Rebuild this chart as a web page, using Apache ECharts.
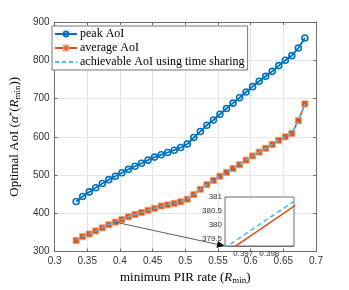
<!DOCTYPE html>
<html><head><meta charset="utf-8">
<script src="https://cdn.jsdelivr.net/npm/echarts@6/dist/echarts.min.js"></script>
<style>html,body{margin:0;padding:0;background:#fff}#c{width:349px;height:290px}</style>
</head><body><div id="c"></div>
<script>
var rates = [0.333,0.343,0.353,0.363,0.373,0.383,0.393,0.403,0.413,0.423,0.433,0.443,0.453,0.463,0.473,0.483,0.493,0.503,0.513,0.523,0.533,0.543,0.553,0.563,0.573,0.583,0.593,0.603,0.613,0.623,0.633,0.643,0.653,0.663,0.673,0.683];
var peakAoI = [431,444,456,467,478,488,497,506,515,523,531,539,547,553,559,565,572,581,598,614,630,644,659,674,688,702,717,731,745,758,771,786,800,812,832,858];
var avgAoI = [329,339,346,354,362,370,377,384,391,397,402,408,413,419,422,426,430,437,449,463,475,486,497,507,517,527,539,550,560,570,580,591,600,609,642,686];
var achAoI = [329.2,339.2,346.2,354.2,362.2,370.2,377.2,384.2,391.2,397.2,402.2,408.2,413.2,419.2,422.2,426.2,430.2,437.2,449.2,463.2,475.2,486.2,497.2,507.2,517.2,527.2,539.2,550.2,560.2,570.2,580.2,591.2,600.2,609.2,642.2,686.2];
var xTicks = ['0.3','0.35','0.4','0.45','0.5','0.55','0.6','0.65','0.7'];
var yTicks = ['300','400','500','600','700','800','900'];
var insetRates = [0.3960, 0.3990];
var insetAvg = [378.81, 380.70];
var insetAch = [379.01, 380.88];
var insetXTicks = [0.397, 0.398];
var insetYTicks = [379.5, 380, 380.5, 381];
var arrowFromIndex = 6;

var BLUE='#0072BD', ORANGE='#D95319', LBLUE='#4DBEEE', AX='#6e6e6e', TXT='#333';
function zip(a,b){return a.map(function(v,i){return [v,b[i]];});}
var chart = echarts.init(document.getElementById('c'), null, {renderer:'canvas'});
var axisCommon = {
  axisLine:{show:true,onZero:false,lineStyle:{color:AX,width:1}},
  axisTick:{show:true,inside:true,length:3,lineStyle:{color:AX}},
  splitLine:{show:false}
};
var option = {
  animation:false,
  backgroundColor:'#fff',
  grid:[{left:45,top:22,right:33,bottom:32,show:false},
        {left:225,top:197,width:69,height:49,show:true,backgroundColor:'#fff',borderColor:AX,borderWidth:1,z:5}],
  legend:{
    left:52, top:26, orient:'vertical', itemWidth:22, itemHeight:6, itemGap:0,
    padding:[1,3,1,2], borderColor:'#777', borderWidth:1, backgroundColor:'#fff',
    textStyle:{fontFamily:'Liberation Serif',fontSize:12,color:'#000',lineHeight:14,padding:[0,0,0,-2]},
    data:[{name:'peak AoI'},{name:'average AoI'},
      {name:'achievable AoI using time sharing',itemStyle:{opacity:0}}]
  },
  xAxis:[
    Object.assign({}, axisCommon, {type:'value',gridIndex:0,min:0.3,max:0.7,interval:0.05,
      axisLabel:{color:TXT,fontFamily:'Liberation Sans',fontSize:10,margin:5,
        formatter:function(v){return xTicks[Math.round((v-0.3)/0.05)];}},
      splitLine:{show:true,lineStyle:{color:'#e6e6e6',width:1}},
      name:'{n|minimum PIR rate (}{i|R}{s|min}{n|)}', nameLocation:'middle', nameGap:13,
      nameTextStyle:{rich:{n:{fontFamily:'Liberation Serif',fontSize:13,color:'#000'},
        i:{fontFamily:'Liberation Serif',fontStyle:'italic',fontSize:13,color:'#000'},
        s:{fontFamily:'Liberation Serif',fontSize:9,color:'#000',padding:[5,0,0,0]}}}}),
    Object.assign({}, axisCommon, {type:'value',gridIndex:0,position:'top',min:0.3,max:0.7,interval:0.05,axisLabel:{show:false}}),
    Object.assign({}, axisCommon, {type:'value',gridIndex:1,min:0.3963,max:0.39895,
      axisTick:{show:true,inside:true,length:2,customValues:insetXTicks,lineStyle:{color:AX}},
      axisLabel:{color:TXT,fontFamily:'Liberation Sans',fontSize:8,margin:4,customValues:insetXTicks,
        formatter:function(v){return v.toFixed(3);}}})
  ],
  yAxis:[
    Object.assign({}, axisCommon, {type:'value',gridIndex:0,min:300,max:900,interval:100,
      axisLabel:{color:TXT,fontFamily:'Liberation Sans',fontSize:10,margin:5,
        formatter:function(v){return yTicks[Math.round((v-300)/100)];}},
      splitLine:{show:true,lineStyle:{color:'#e6e6e6',width:1}},
      name:'{n|Optimal AoI (}{i|α}{s|*}{n|(}{i|R}{b|min}{n|))}', nameLocation:'middle', nameGap:25,
      nameTextStyle:{rich:{n:{fontFamily:'Liberation Serif',fontSize:13,color:'#000'},
        i:{fontFamily:'Liberation Serif',fontStyle:'italic',fontSize:13,color:'#000'},
        s:{fontFamily:'Liberation Serif',fontSize:9,color:'#000',padding:[0,0,5,0]},
        b:{fontFamily:'Liberation Serif',fontSize:9,color:'#000',padding:[5,0,0,0]}}}}),
    Object.assign({}, axisCommon, {type:'value',gridIndex:0,position:'right',min:300,max:900,interval:100,axisLabel:{show:false}}),
    Object.assign({}, axisCommon, {type:'value',gridIndex:1,min:379.26,max:381,
      axisTick:{show:true,inside:true,length:2,customValues:insetYTicks,lineStyle:{color:AX}},
      axisLabel:{color:TXT,fontFamily:'Liberation Sans',fontSize:8,margin:3,customValues:insetYTicks,
        formatter:function(v){return String(v);}}})
  ],
  series:[
    {name:'peak AoI',type:'line',xAxisIndex:0,yAxisIndex:0,data:zip(rates,peakAoI),z:2,
     symbol:'circle',symbolSize:6,lineStyle:{color:BLUE,width:1.8},
     itemStyle:{color:'rgba(255,255,255,0)',borderColor:BLUE,borderWidth:1.6}},
    {name:'average AoI',type:'line',xAxisIndex:0,yAxisIndex:0,data:zip(rates,avgAoI),z:3,
     symbol:'rect',symbolSize:6,lineStyle:{color:ORANGE,width:1.6},
     itemStyle:{color:ORANGE,borderColor:'#EE9A72',borderWidth:1}},
    {name:'achievable AoI using time sharing',type:'line',xAxisIndex:0,yAxisIndex:0,data:zip(rates,achAoI),z:4,
     symbol:'none',lineStyle:{color:LBLUE,width:1.6,type:[4,3]},itemStyle:{color:LBLUE}},
    {name:'average AoI',type:'line',xAxisIndex:2,yAxisIndex:2,data:zip(insetRates,insetAvg),z:6,
     symbol:'none',lineStyle:{color:ORANGE,width:1.6},clip:true},
    {name:'achievable AoI using time sharing',type:'line',xAxisIndex:2,yAxisIndex:2,data:zip(insetRates,insetAch),z:6,
     symbol:'none',lineStyle:{color:LBLUE,width:1.6,type:[5,3]},clip:true}
  ]
};
chart.setOption(option);
var p0 = chart.convertToPixel({xAxisIndex:0,yAxisIndex:0},[rates[arrowFromIndex],avgAoI[arrowFromIndex]]);
var p1 = chart.convertToPixel({xAxisIndex:2,yAxisIndex:2},[0.3963,379.26]);
var dx=p1[0]-p0[0], dy=p1[1]-p0[1], L=Math.sqrt(dx*dx+dy*dy), ux=dx/L, uy=dy/L;
var hl=8, hw=3.5;
var base=[p1[0]-ux*hl,p1[1]-uy*hl];
chart.setOption({graphic:[
  {type:'line',z:10,shape:{x1:p0[0],y1:p0[1],x2:base[0],y2:base[1]},style:{stroke:'#333',lineWidth:0.8}},
  {type:'polygon',z:10,shape:{points:[[p1[0],p1[1]],[base[0]-uy*hw,base[1]+ux*hw],[base[0]+uy*hw,base[1]-ux*hw]]},style:{fill:'#000'}}
]});
</script></body></html>
